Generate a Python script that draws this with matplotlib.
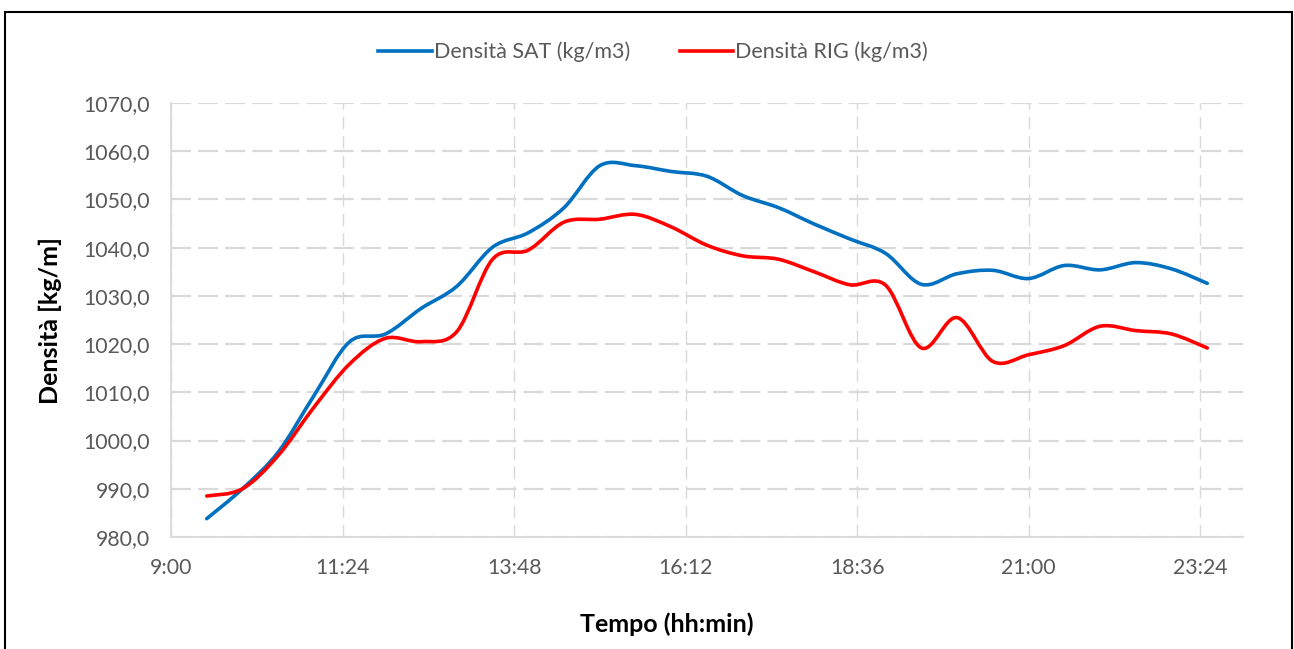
import numpy as np
import matplotlib
matplotlib.use("Agg")
from matplotlib import pyplot as plt
from matplotlib.path import Path
from matplotlib.patches import PathPatch, Rectangle
from matplotlib.lines import Line2D
from matplotlib.ticker import FixedLocator, FuncFormatter, MultipleLocator

plt.rcParams['font.family'] = ['Lato', 'DejaVu Sans']

# orari delle misure
orari = ["9:30", "10:00", "10:30", "11:00", "11:30", "12:00", "12:30", "13:00",
         "13:30", "14:00", "14:30", "15:00", "15:30", "16:00", "16:30", "17:00",
         "17:30", "18:00", "18:30", "19:00", "19:30", "20:00", "20:30", "21:00",
         "21:30", "22:00", "22:30", "23:00", "23:30"]

densita_sat = [983.8, 990.0, 997.6, 1009.3, 1020.5, 1022.1, 1027.4, 1032.0,
               1040.1, 1043.1, 1048.3, 1057.0, 1057.0, 1055.8, 1054.8, 1050.8,
               1048.3, 1044.9, 1041.8, 1038.8, 1032.4, 1034.6, 1035.3, 1033.6,
               1036.3, 1035.4, 1036.9, 1035.6, 1032.6]

densita_rig = [988.5, 990.0, 996.9, 1006.9, 1015.9, 1021.2, 1020.5, 1022.6,
               1037.6, 1039.5, 1045.3, 1045.9, 1046.9, 1044.3, 1040.5, 1038.3,
               1037.6, 1035.0, 1032.3, 1032.2, 1019.2, 1025.5, 1016.4, 1017.8,
               1019.7, 1023.7, 1022.8, 1022.1, 1019.2]

tick_orari = ["9:00", "11:24", "13:48", "16:12", "18:36", "21:00", "23:24"]


def in_ore(s):
    h, m = s.split(":")
    return int(h) + int(m) / 60


def formato_ora(x, pos):
    minuti = int(round(x * 60))
    return "%d:%02d" % (minuti // 60, minuti % 60)


def linea_smussata(x, y):
    # curva di Bezier come la "linea smussata" di Excel
    x = np.asarray(x, float)
    y = np.asarray(y, float)
    n = len(x)
    verts = [(x[0], y[0])]
    codes = [Path.MOVETO]
    for i in range(n - 1):
        i0 = max(i - 1, 0)
        i3 = min(i + 2, n - 1)
        c1 = (x[i] + (x[i + 1] - x[i0]) / 6, y[i] + (y[i + 1] - y[i0]) / 6)
        c2 = (x[i + 1] - (x[i3] - x[i]) / 6, y[i + 1] - (y[i3] - y[i]) / 6)
        verts += [c1, c2, (x[i + 1], y[i + 1])]
        codes += [Path.CURVE4] * 3
    return Path(verts, codes)


ore = [in_ore(s) for s in orari]

fig = plt.figure(figsize=(12.94, 6.49), dpi=100)
ax = fig.add_axes([171 / 1294, 1 - 537 / 649, (1243 - 171) / 1294, (537 - 103) / 649])

blu = "#0070C0"
rosso = "#FF0000"
for valori, colore in [(densita_sat, blu), (densita_rig, rosso)]:
    patch = PathPatch(linea_smussata(ore, valori), facecolor="none",
                      edgecolor=colore, lw=2.6, capstyle="round", zorder=3)
    ax.add_patch(patch)

ax.set_xlim(9, 24)
ax.set_ylim(980, 1070)
ax.xaxis.set_major_locator(FixedLocator([in_ore(s) for s in tick_orari]))
ax.xaxis.set_major_formatter(FuncFormatter(formato_ora))
ax.yaxis.set_major_locator(MultipleLocator(10))
ax.yaxis.set_major_formatter(FuncFormatter(lambda v, p: ("%.1f" % v).replace(".", ",")))

grigio = "#595959"
ax.tick_params(axis="both", length=0, labelsize=15.3, labelcolor=grigio)
ax.tick_params(axis="y", pad=15)
ax.tick_params(axis="x", pad=15)

ax.grid(axis="y", color="#d9d9d9", lw=1.6, dashes=(9, 3.2))
ax.grid(axis="x", color="#d9d9d9", lw=1.0, dashes=(9, 5))
ax.set_axisbelow(True)
for lato in ["top", "right"]:
    ax.spines[lato].set_visible(False)
for lato in ["left", "bottom"]:
    ax.spines[lato].set_color("#d9d9d9")
    ax.spines[lato].set_linewidth(1.3)

fig.text(50 / 1294, 1 - 320 / 649, "Densità [kg/m]", rotation=90, ha="center",
         va="center", fontsize=18, fontweight="bold", color="black")
fig.text(667 / 1294, 1 - 624 / 649, "Tempo (hh:min)", ha="center", va="center",
         fontsize=18, fontweight="bold", color="black")

maniglie = [Line2D([], [], color=blu, lw=2.6), Line2D([], [], color=rosso, lw=2.6)]
fig.legend(maniglie, ["Densità SAT (kg/m3)", "Densità RIG (kg/m3)"],
           loc="center", bbox_to_anchor=(653 / 1294, 1 - 52 / 649), ncol=2,
           frameon=False, fontsize=15.5, labelcolor=grigio, handlelength=2.5,
           handletextpad=0.1, columnspacing=2.3)

# cornice nera
fig.patches.append(Rectangle((5 / 1294, -0.05), 1287 / 1294, 1.05 - 12 / 649,
                             transform=fig.transFigure, fill=False,
                             edgecolor="black", lw=1.5))

fig.savefig("out.png", dpi=100)
